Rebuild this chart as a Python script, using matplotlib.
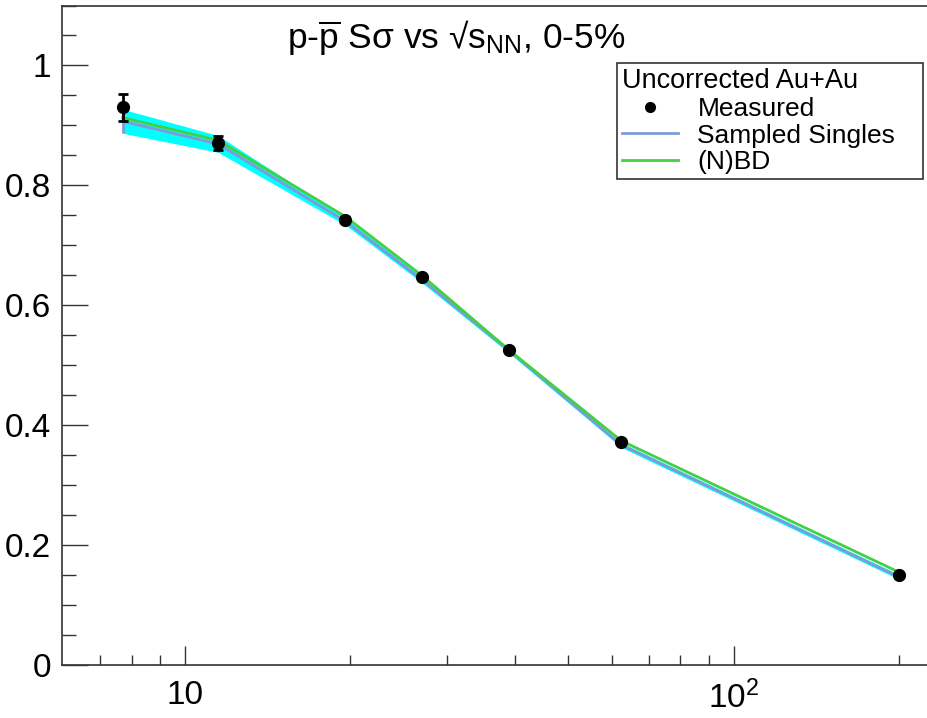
import matplotlib
matplotlib.use('Agg')
import matplotlib.pyplot as plt
from matplotlib.ticker import FixedLocator, FixedFormatter, MultipleLocator
from matplotlib.lines import Line2D
import numpy as np

plt.rcParams['font.family'] = ['Liberation Sans', 'DejaVu Sans']
plt.rcParams['mathtext.fontset'] = 'custom'
plt.rcParams['mathtext.rm'] = 'Liberation Sans'
plt.rcParams['mathtext.it'] = 'Liberation Sans:italic'
plt.rcParams['mathtext.bf'] = 'Liberation Sans:bold'

# data
sqrt_s = [7.7, 11.5, 19.6, 27, 39, 62.4, 200]
measured = [0.930, 0.871, 0.743, 0.647, 0.525, 0.372, 0.150]
measured_err = [0.022, 0.012, 0.004, 0.003, 0.003, 0.003, 0.002]
singles = [0.907, 0.869, 0.740, 0.643, 0.524, 0.367, 0.147]
singles_err = [0.020, 0.014, 0.006, 0.005, 0.004, 0.004, 0.004]
nbd = [0.913, 0.875, 0.748, 0.650, 0.525, 0.374, 0.155]

x_major = [10, 100]
x_major_labels = ['10', r'$10^{2}$']
x_minor = [7, 8, 9, 20, 30, 40, 50, 60, 70, 80, 90, 200]
y_ticks = [0, 0.2, 0.4, 0.6, 0.8, 1.0]
y_labels = ['0', '0.2', '0.4', '0.6', '0.8', '1']

fig = plt.figure(figsize=(9.28, 7.18), dpi=100)
ax = fig.add_axes([62/928, 1 - 665/718, 890/928, 659.5/718])

s = np.array(singles)
se = np.array(singles_err)
ax.fill_between(sqrt_s, s - se, s + se, color='#00ffff', lw=0, zorder=1)
ax.errorbar(sqrt_s, singles, yerr=singles_err, color='#7f9ad8', lw=2,
            elinewidth=2, capsize=0, zorder=2)
ax.plot(sqrt_s, nbd, color='#44d044', lw=2, zorder=3)
ax.errorbar(sqrt_s, measured, yerr=measured_err, fmt='o', color='black',
            ms=8.5, elinewidth=2, capsize=3.5, capthick=2, zorder=4)

ax.set_xscale('log')
ax.set_xlim(5.97, 250)
ax.set_ylim(0, 1.1)

ax.xaxis.set_major_locator(FixedLocator(x_major))
ax.xaxis.set_major_formatter(FixedFormatter(x_major_labels))
ax.xaxis.set_minor_locator(FixedLocator(x_minor))
ax.xaxis.set_minor_formatter(FixedFormatter([''] * len(x_minor)))
ax.yaxis.set_minor_locator(MultipleLocator(0.05))
ax.set_yticks(y_ticks)
ax.set_yticklabels(y_labels)

ax.tick_params(axis='both', which='both', direction='in', top=False, right=False,
               labelsize=24, width=1, color='#333333')
ax.tick_params(axis='y', which='major', length=19, pad=8)
ax.tick_params(axis='y', which='minor', length=10)
ax.tick_params(axis='x', which='major', length=14, pad=11)
ax.tick_params(axis='x', which='minor', length=7)
for sp in ax.spines.values():
    sp.set_color('#333333')
    sp.set_linewidth(1.2)
ax.spines['right'].set_visible(False)

fig.text(456/928, 1 - 38/718, r'p-$\overline{\mathrm{p}}$ Sσ vs √s$_{\mathrm{NN}}$, 0-5%',
         ha='center', va='center', fontsize=25.5)

handles = [Line2D([], [], ls='none', marker='o', color='black', ms=7),
           Line2D([], [], color='#7f9ad8', lw=2),
           Line2D([], [], color='#44d044', lw=2)]
leg = ax.legend(handles, ['Measured', 'Sampled Singles', '(N)BD'],
                title='Uncorrected Au+Au', title_fontsize=19.5, fontsize=19,
                alignment='left', loc='upper left', mode='expand',
                bbox_to_anchor=(617/928, 1 - 182/718, 306/928, 119/718),
                bbox_transform=fig.transFigure,
                fancybox=False, framealpha=1, edgecolor='#333333',
                borderpad=0.2, labelspacing=0.1, handlelength=2.1,
                handletextpad=0.75, borderaxespad=0)
leg.get_frame().set_linewidth(1.2)

fig.savefig('out.png', dpi=100)
